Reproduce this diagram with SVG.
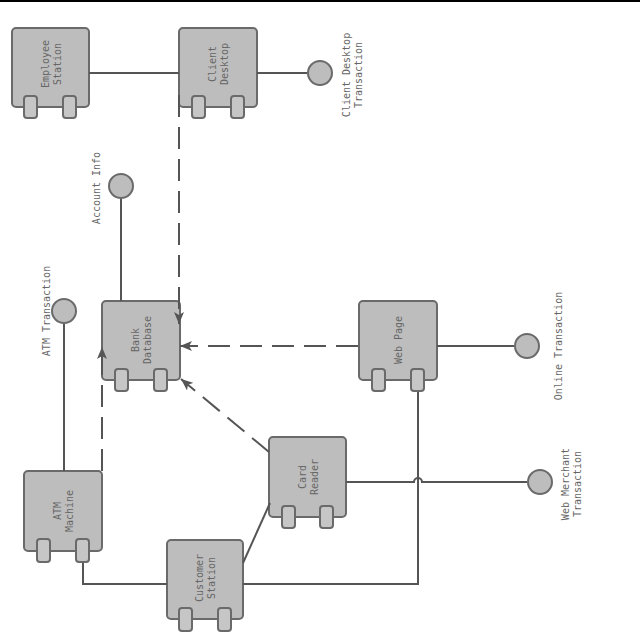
<svg xmlns="http://www.w3.org/2000/svg" width="640" height="640" viewBox="0 0 640 640">
<defs>
<style>
.node{fill:#bdbdbd;stroke:#6a6a6a;stroke-width:2}
.foot{fill:#c6c6c6;stroke:#6a6a6a;stroke-width:2}
.iface{fill:#bdbdbd;stroke:#6a6a6a;stroke-width:2}
.lbl{font-family:"DejaVu Sans Mono","Liberation Mono",monospace;font-size:10px;fill:#666666;text-anchor:middle}
.solid{fill:none;stroke:#555555;stroke-width:2}
.dash{fill:none;stroke:#555555;stroke-width:2;stroke-dasharray:22 10}
</style>
<marker id="arr" viewBox="0 0 12 10" refX="12" refY="5" markerWidth="12" markerHeight="10" markerUnits="userSpaceOnUse" orient="auto">
<path d="M0,0 L12,5 L0,10 L3,5 z" fill="#555555"/>
</marker>
</defs>
<rect x="0" y="0" width="640" height="640" fill="#ffffff"/>
<rect x="0" y="0" width="640" height="2" fill="#000000"/>

<g id="employee-station">
<rect class="node" x="12" y="28" width="77" height="79" rx="4"/>
<rect class="foot" x="24" y="96" width="13" height="22" rx="3"/>
<rect class="foot" x="63" y="96" width="13" height="22" rx="3"/>
<text class="lbl" transform="translate(51,64) rotate(-90)"><tspan x="0" y="-2">Employee</tspan><tspan x="0" y="10">Station</tspan></text>
</g>

<g id="client-desktop">
<rect class="node" x="179" y="28" width="78" height="79" rx="4"/>
<rect class="foot" x="192" y="96" width="13" height="22" rx="3"/>
<rect class="foot" x="231" y="96" width="13" height="22" rx="3"/>
<text class="lbl" transform="translate(218,64) rotate(-90)"><tspan x="0" y="-2">Client</tspan><tspan x="0" y="10">Desktop</tspan></text>
</g>

<g id="client-desktop-transaction">
<circle class="iface" cx="320" cy="73" r="12"/>
<text class="lbl" transform="translate(352,75) rotate(-90)"><tspan x="0" y="-2">Client Desktop</tspan><tspan x="0" y="10">Transaction</tspan></text>
</g>

<g id="bank-database">
<rect class="node" x="102" y="301" width="78" height="79" rx="4"/>
<rect class="foot" x="115" y="369" width="13" height="22" rx="3"/>
<rect class="foot" x="154" y="369" width="13" height="22" rx="3"/>
<text class="lbl" transform="translate(141,340) rotate(-90)"><tspan x="0" y="-2">Bank</tspan><tspan x="0" y="10">Database</tspan></text>
</g>

<g id="account-info">
<circle class="iface" cx="121" cy="186" r="12"/>
<text class="lbl" transform="translate(96,188) rotate(-90)"><tspan x="0" y="3.5">Account Info</tspan></text>
</g>

<g id="atm-transaction">
<circle class="iface" cx="64" cy="311" r="12"/>
<text class="lbl" transform="translate(46,311) rotate(-90)"><tspan x="0" y="3.5">ATM Transaction</tspan></text>
</g>

<g id="atm-machine">
<rect class="node" x="24" y="471" width="78" height="80" rx="4"/>
<rect class="foot" x="37" y="539" width="13" height="23" rx="3"/>
<rect class="foot" x="76" y="539" width="13" height="23" rx="3"/>
<text class="lbl" transform="translate(63,511) rotate(-90)"><tspan x="0" y="-2">ATM</tspan><tspan x="0" y="10">Machine</tspan></text>
</g>

<g id="web-page">
<rect class="node" x="359" y="301" width="78" height="79" rx="4"/>
<rect class="foot" x="372" y="369" width="13" height="22" rx="3"/>
<rect class="foot" x="411" y="369" width="13" height="22" rx="3"/>
<text class="lbl" transform="translate(398,340) rotate(-90)"><tspan x="0" y="3.5">Web Page</tspan></text>
</g>

<g id="online-transaction">
<circle class="iface" cx="527" cy="346" r="12"/>
<text class="lbl" transform="translate(558,346) rotate(-90)"><tspan x="0" y="3.5">Online Transaction</tspan></text>
</g>

<g id="card-reader">
<rect class="node" x="269" y="437" width="77" height="80" rx="4"/>
<rect class="foot" x="282" y="506" width="13" height="22" rx="3"/>
<rect class="foot" x="320" y="506" width="13" height="22" rx="3"/>
<text class="lbl" transform="translate(308,477) rotate(-90)"><tspan x="0" y="-2">Card</tspan><tspan x="0" y="10">Reader</tspan></text>
</g>

<g id="web-merchant-transaction">
<circle class="iface" cx="540" cy="482" r="12"/>
<text class="lbl" transform="translate(571,484) rotate(-90)"><tspan x="0" y="-2">Web Merchant</tspan><tspan x="0" y="10">Transaction</tspan></text>
</g>

<g id="customer-station">
<rect class="node" x="167" y="540" width="76" height="79" rx="4"/>
<rect class="foot" x="179" y="608" width="13" height="23" rx="3"/>
<rect class="foot" x="218" y="608" width="13" height="23" rx="3"/>
<text class="lbl" transform="translate(205,578) rotate(-90)"><tspan x="0" y="-2">Customer</tspan><tspan x="0" y="10">Station</tspan></text>
</g>

<g id="connectors">
<path class="solid" d="M89,73 L179,73"/>
<path class="solid" d="M257,73 L307,73"/>
<path class="solid" d="M121,199 L121,301"/>
<path class="solid" d="M64,324 L64,471"/>
<path class="solid" d="M437,346 L514,346"/>
<path class="solid" d="M346,482 L414,482 A4,4 0 0 1 422,482 L527,482"/>
<path class="solid" d="M418,392 L418,584 L243,584"/>
<path class="solid" d="M83,563 L83,584 L167,584"/>
<path class="solid" d="M243,563 L270,503"/>
<path class="dash" d="M179,95 L179,324" marker-end="url(#arr)"/>
<path class="dash" d="M358,346 L180,346" marker-end="url(#arr)"/>
<path class="dash" d="M269,452 L181,379" marker-end="url(#arr)"/>
<path class="dash" d="M102,471 L102,347" marker-end="url(#arr)"/>
</g>
</svg>
